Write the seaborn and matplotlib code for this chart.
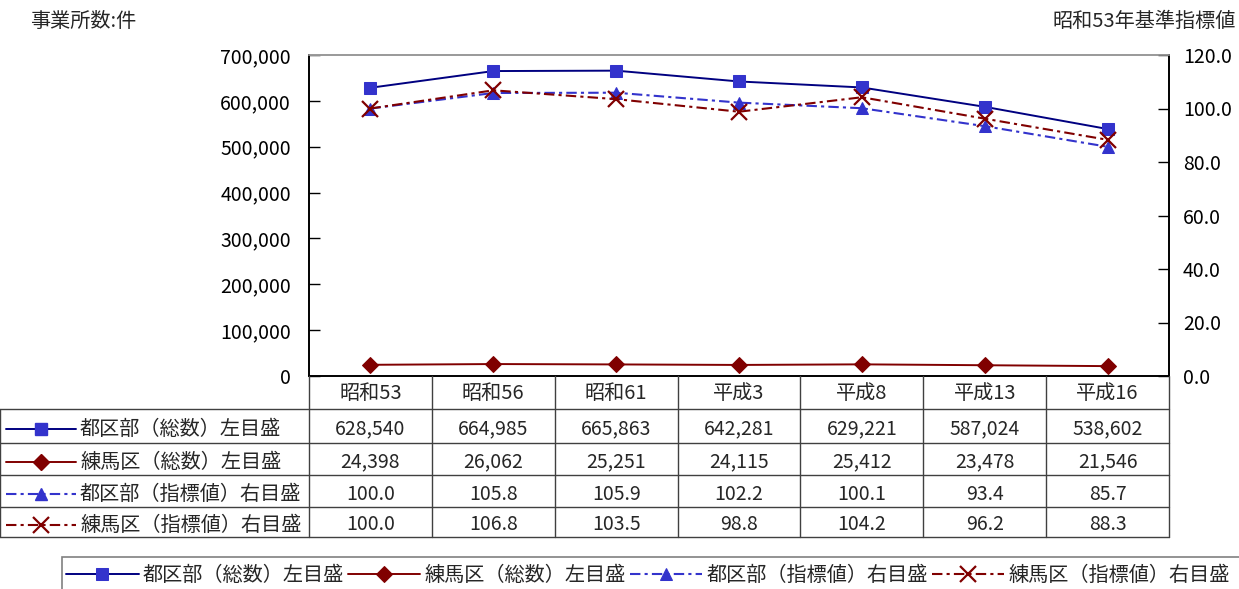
import numpy as np
import pandas as pd
import matplotlib
matplotlib.use("Agg")
import matplotlib.pyplot as plt
from matplotlib.lines import Line2D
from matplotlib.patches import Rectangle
import seaborn as sns

# ---- data -------------------------------------------------------------
categories = ["昭和53", "昭和56", "昭和61", "平成3", "平成8", "平成13", "平成16"]
tokubu_total = [628540, 664985, 665863, 642281, 629221, 587024, 538602]
nerima_total = [24398, 26062, 25251, 24115, 25412, 23478, 21546]
tokubu_index = [100.0, 105.8, 105.9, 102.2, 100.1, 93.4, 85.7]
nerima_index = [100.0, 106.8, 103.5, 98.8, 104.2, 96.2, 88.3]

series_labels = [
    "都区部（総数）左目盛",
    "練馬区（総数）左目盛",
    "都区部（指標値）右目盛",
    "練馬区（指標値）右目盛",
]
left_title = "事業所数:件"
right_title = "昭和53年基準指標値"

# ---- style ------------------------------------------------------------
sns.set_theme(style="white")
plt.rcParams["font.family"] = ["Noto Sans CJK JP", "DejaVu Sans"]
FS = 14.5      # labels containing kanji
FS_NUM = 14    # numbers

NAVY = "#000080"
BLUE = "#3333CC"
DRED = "#800000"
DASHDOT = (5, 2, 1.5, 2)

W, H = 1239, 589
fig = plt.figure(figsize=(W / 100, H / 100), dpi=100)


def fx(x):
    return x / W


def fy(y):
    return 1 - y / H


# plot area in pixel layout
L, R, T, B = 309, 1169, 55, 376
ax = fig.add_axes([fx(L), fy(B), fx(R - L), (B - T) / H])
ax2 = ax.twinx()

df = pd.DataFrame({
    "cat": categories,
    "tokubu_total": tokubu_total,
    "nerima_total": nerima_total,
    "tokubu_index": tokubu_index,
    "nerima_index": nerima_index,
})

specs = [
    (ax, "tokubu_total", dict(color=NAVY, marker="s", markerfacecolor=BLUE,
                              markeredgecolor=BLUE, markersize=8, linewidth=1.4)),
    (ax, "nerima_total", dict(color=DRED, marker="D", markerfacecolor=DRED,
                              markeredgecolor=DRED, markersize=8, linewidth=1.4)),
    (ax2, "tokubu_index", dict(color=BLUE, marker="^", markerfacecolor=BLUE,
                               markeredgecolor=BLUE, markersize=8, linewidth=1.5,
                               dashes=DASHDOT)),
    (ax2, "nerima_index", dict(color=DRED, marker="x", markeredgecolor=DRED,
                               markersize=11, markeredgewidth=1.6, linewidth=1.5,
                               dashes=DASHDOT)),
]
handles = []
for target, col, kw in specs:
    sns.lineplot(data=df, x="cat", y=col, ax=target, sort=False, **kw)
    handles.append(target.get_lines()[-1])

for a in (ax, ax2):
    a.set_xlim(-0.5, len(categories) - 0.5)
    a.set_xlabel("")
    a.set_ylabel("")
    a.set_xticks([])
    a.grid(False)
    a.set_facecolor("none")

ax.set_ylim(0, 700000)
ax.set_yticks(np.arange(0, 700001, 100000))
ax.set_yticklabels([f"{v:,}" for v in range(0, 700001, 100000)])
ax2.set_ylim(0, 120)
ax2.set_yticks(np.arange(0, 121, 20))
ax2.set_yticklabels([f"{v:.1f}" for v in range(0, 121, 20)])

ax.tick_params(axis="y", direction="in", length=8, width=1, color="black",
               pad=13, labelsize=FS_NUM, labelcolor="black", left=True)
ax2.tick_params(axis="y", direction="in", length=8, width=1, color="black",
                pad=10, labelsize=FS_NUM, labelcolor="black", right=True)

for a in (ax, ax2):
    for side in ("left", "right", "bottom"):
        a.spines[side].set_color("black")
        a.spines[side].set_linewidth(1.2)
    a.spines["top"].set_color("#999999")
    a.spines["top"].set_linewidth(1.2)

# ---- titles -------------------------------------------------------------
fig.text(fx(30), fy(21), left_title, fontsize=FS, ha="left", va="center")
fig.text(fx(1236), fy(21), right_title, fontsize=FS, ha="right", va="center")

# ---- data table under the plot ------------------------------------------
col_w = (R - L) / len(categories)
row_edges = [409, 443, 475, 507, 537]
grid_kw = dict(color="#404040", linewidth=1.0)

# header row with category names
for i in range(len(categories) + 1):
    x = L + i * col_w
    fig.add_artist(Line2D([fx(x), fx(x)], [fy(B), fy(row_edges[-1])], **grid_kw))
for i, c in enumerate(categories):
    fig.text(fx(L + (i + 0.5) * col_w), fy((B + row_edges[0]) / 2 + 1), c,
             fontsize=FS, ha="center", va="center")

fig.add_artist(Line2D([fx(0), fx(0)], [fy(row_edges[0]), fy(row_edges[-1])], **grid_kw))
for y in row_edges:
    fig.add_artist(Line2D([fx(0), fx(R)], [fy(y), fy(y)], **grid_kw))

table_rows = [
    [f"{v:,}" for v in tokubu_total],
    [f"{v:,}" for v in nerima_total],
    [f"{v:.1f}" for v in tokubu_index],
    [f"{v:.1f}" for v in nerima_index],
]
for r, (vals, label, (_, _, kw)) in enumerate(zip(table_rows, series_labels, specs)):
    yc = (row_edges[r] + row_edges[r + 1]) / 2 + 3
    for i, v in enumerate(vals):
        fig.text(fx(L + (i + 0.5) * col_w), fy(yc), v, fontsize=FS_NUM,
                 ha="center", va="center")
    # legend key in the row header
    key_kw = dict(kw)
    key_kw.pop("markersize", None)
    dashes = key_kw.pop("dashes", None)
    key = Line2D([fx(6), fx(76)], [fy(yc), fy(yc)], **key_kw,
                 markersize=kw.get("markersize", 8))
    if dashes is not None:
        key.set_dashes(dashes)
    key.set_markevery([])
    fig.add_artist(key)
    mk = Line2D([fx(41)], [fy(yc)], linestyle="none", marker=kw["marker"],
                markerfacecolor=kw.get("markerfacecolor", kw["color"]),
                markeredgecolor=kw.get("markeredgecolor", kw["color"]),
                markersize=kw.get("markersize", 8),
                markeredgewidth=kw.get("markeredgewidth", 1.0))
    fig.add_artist(mk)
    fig.text(fx(80), fy(yc), label, fontsize=FS, ha="left", va="center")

# ---- legend along the bottom ---------------------------------------------
fig.add_artist(Rectangle((fx(62), fy(640)), fx(1300), (640 - 557) / H,
                         facecolor="none", edgecolor="#808080", linewidth=1.2))
fig.legend(handles, series_labels, loc="upper left",
           bbox_to_anchor=(fx(64), fy(563)), ncol=4, frameon=False,
           fontsize=FS, handlelength=3.6, handletextpad=0.2, columnspacing=0.2,
           borderaxespad=0, borderpad=0.1)

fig.savefig("out.png", dpi=100)
